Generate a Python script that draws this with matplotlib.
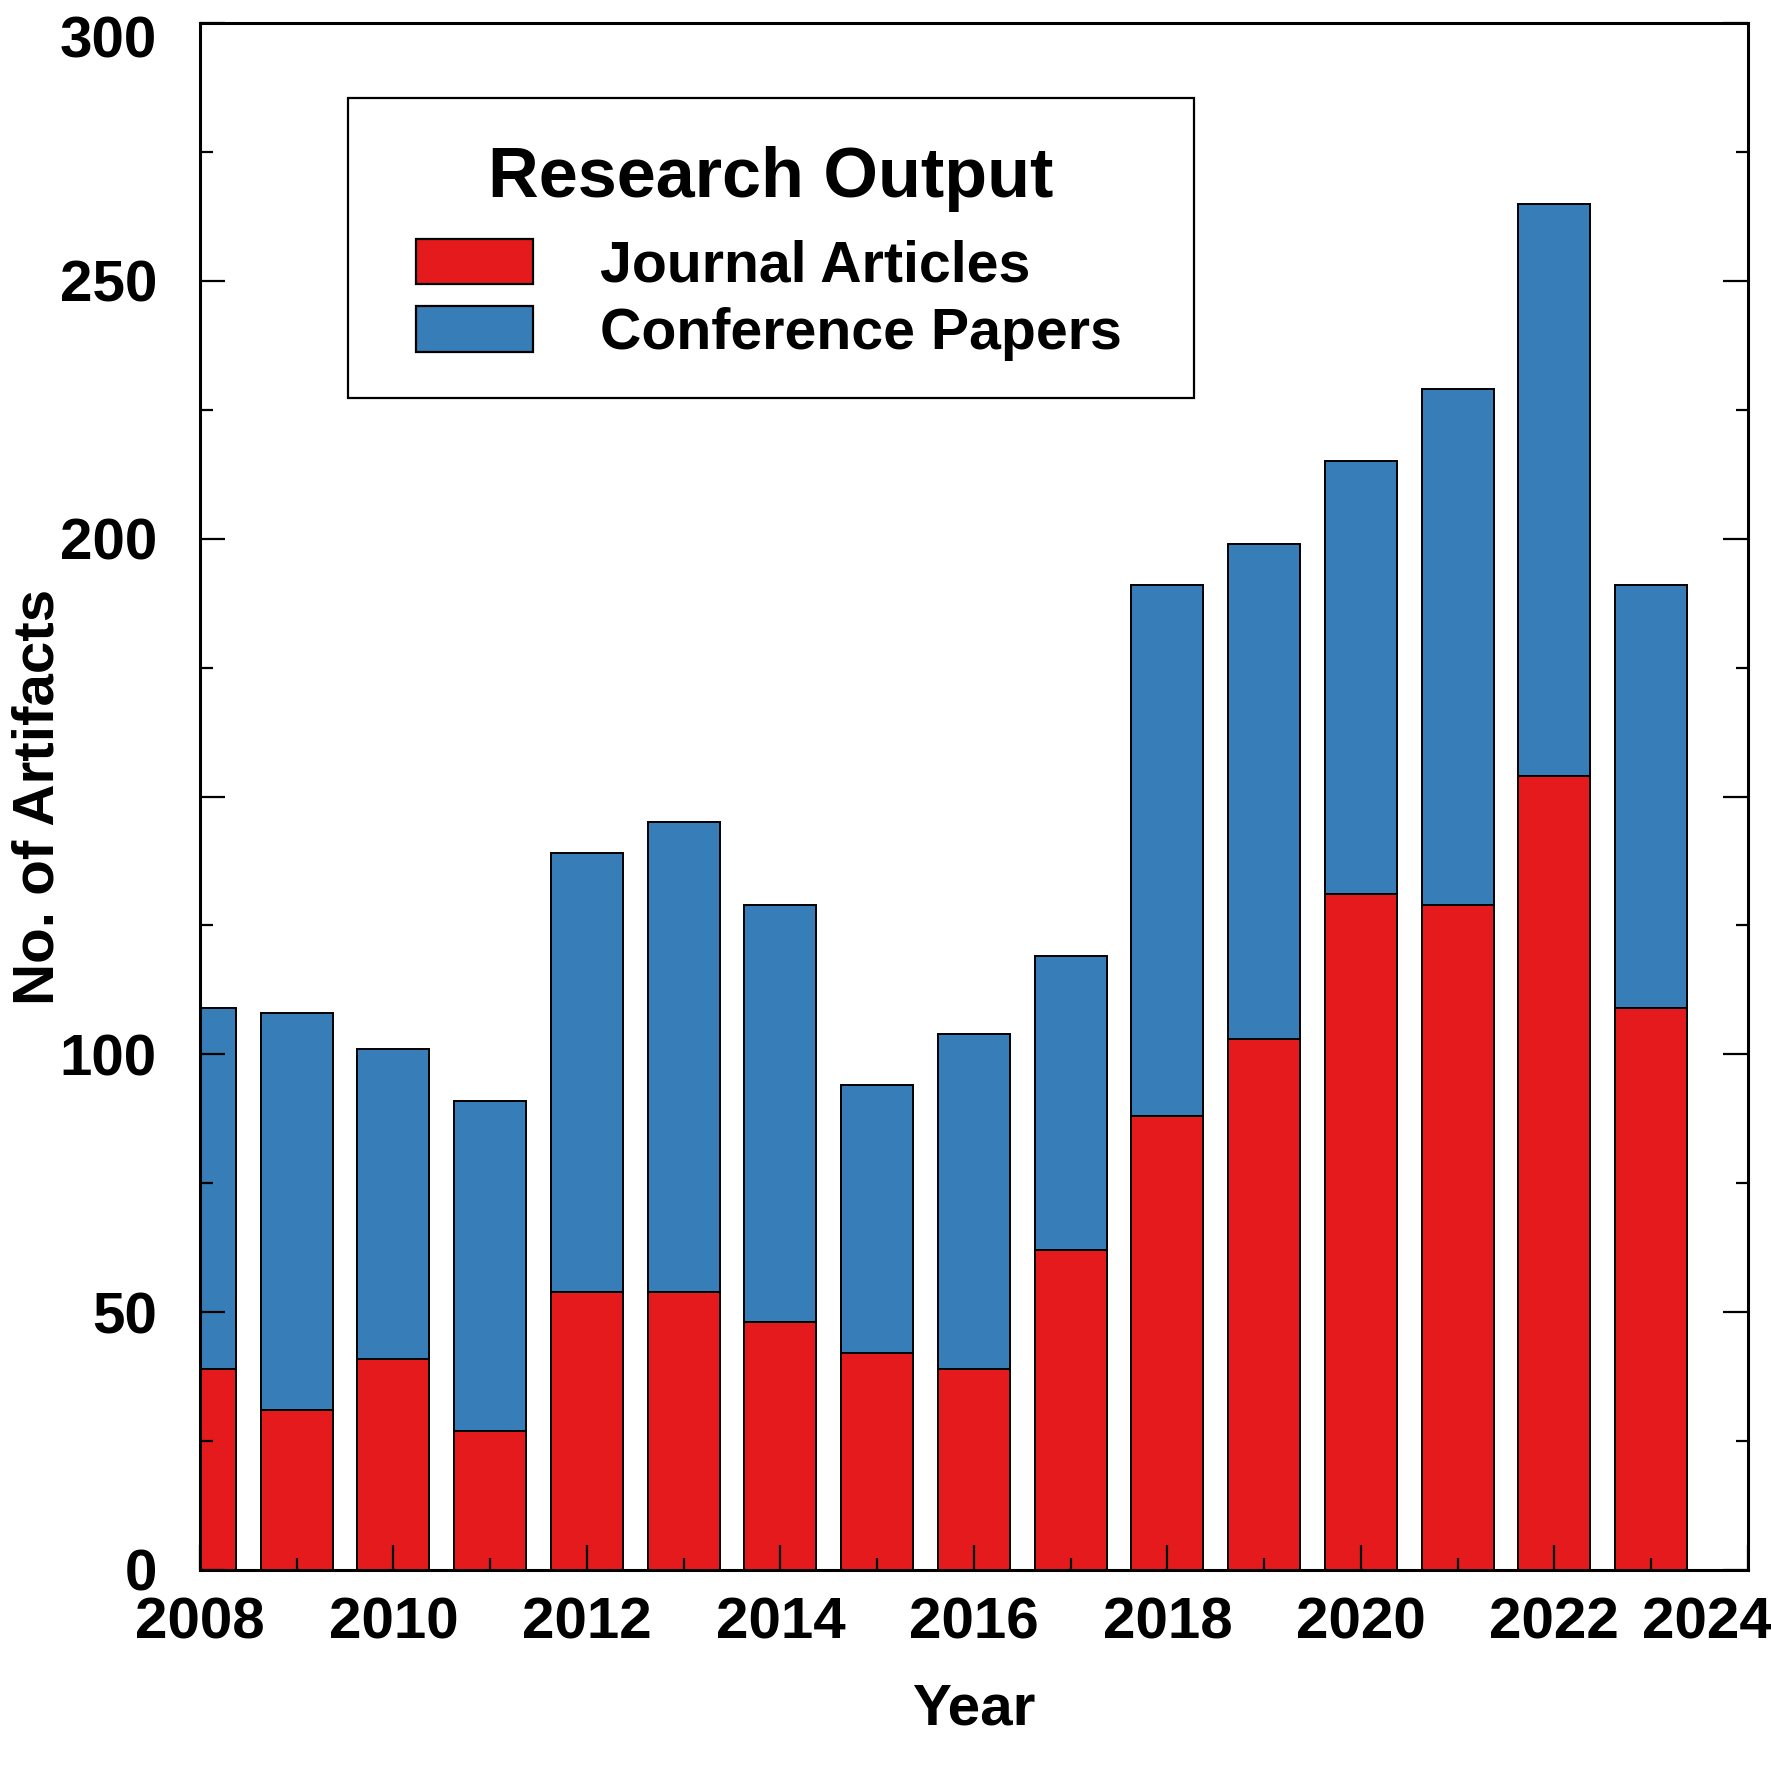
import numpy as np
import matplotlib
matplotlib.use('Agg')
import matplotlib.pyplot as plt
import matplotlib.transforms as mtransforms
from matplotlib.patches import Rectangle
from matplotlib.ticker import MultipleLocator, FuncFormatter

# Datos
years = [2008, 2009, 2010, 2011, 2012, 2013, 2014, 2015,
         2016, 2017, 2018, 2019, 2020, 2021, 2022, 2023]
journal = [39, 31, 41, 27, 54, 54, 48, 42, 39, 62, 88, 103, 131, 129, 154, 109]
conference = [70, 77, 60, 64, 85, 91, 81, 52, 65, 57, 103, 96, 84, 100, 111, 82]

red = '#E41A1C'
blue = '#377EB8'

plt.rcParams['font.family'] = ['Liberation Sans', 'DejaVu Sans']
plt.rcParams['font.weight'] = 'bold'

fig = plt.figure(figsize=(17.71, 17.71), dpi=100)
ax = fig.add_axes([0.1129, 0.1135, 0.874, 0.8735])

# Barras apiladas
ax.bar(years, journal, width=0.745, color=red, edgecolor='black',
       linewidth=1.4, label='Journal Articles')
ax.bar(years, conference, width=0.745, bottom=journal, color=blue,
       edgecolor='black', linewidth=1.4, label='Conference Papers')

ax.set_xlim(2008, 2024)
ax.set_ylim(0, 300)

ax.xaxis.set_major_locator(MultipleLocator(2))
ax.xaxis.set_minor_locator(MultipleLocator(1))
ax.yaxis.set_major_locator(MultipleLocator(50))
ax.yaxis.set_minor_locator(MultipleLocator(25))
# el original no muestra la etiqueta 150
ax.yaxis.set_major_formatter(FuncFormatter(lambda v, p: '' if v == 150 else f'{v:.0f}'))

ax.tick_params(axis='both', which='both', direction='in', width=1.6)
ax.tick_params(axis='y', which='both', left=True, right=True)
ax.tick_params(axis='x', which='both', top=False)
ax.tick_params(which='major', length=18)
ax.tick_params(which='minor', length=9)
ax.tick_params(axis='y', which='major', labelsize=42, pad=31)
ax.tick_params(axis='x', which='major', labelsize=42, pad=19)

for sp in ax.spines.values():
    sp.set_linewidth(2.2)

ax.set_xlabel('Year', fontsize=42, fontweight='bold')
ax.set_ylabel('No. of Artifacts', fontsize=42, fontweight='bold')
ax.xaxis.set_label_coords(0.5, -0.073)
ax.yaxis.set_label_coords(-0.087, 0.5)

# Desplazar las etiquetas de los extremos para que quepan
fig.canvas.draw()
for lab in ax.get_xticklabels():
    if lab.get_text() == '2024':
        lab.set_transform(lab.get_transform() +
                          mtransforms.ScaledTranslation(-0.41, 0, fig.dpi_scale_trans))
for lab in ax.get_yticklabels():
    if lab.get_text() == '300':
        lab.set_transform(lab.get_transform() +
                          mtransforms.ScaledTranslation(0, -0.13, fig.dpi_scale_trans))

# Cuadro de la leyenda con título
ax.add_patch(Rectangle((0.0956, 0.7576), 0.5465, 0.194, transform=ax.transAxes,
                       facecolor='white', edgecolor='black', linewidth=1.6, zorder=4))
ax.text(0.3689, 0.8875, 'Research Output', transform=ax.transAxes,
        ha='center', va='baseline', fontsize=50.5, fontweight='bold', zorder=6)

leg = ax.legend(loc='upper left', bbox_to_anchor=(0.1395, 0.8605),
                borderaxespad=0, borderpad=0, frameon=False,
                prop={'size': 41.2, 'weight': 'bold'},
                handlelength=2.05, handleheight=0.85, handletextpad=1.17,
                labelspacing=0.22)
for h in leg.legend_handles:
    h.set_linewidth(1.6)

fig.savefig('out.png', dpi=100)
